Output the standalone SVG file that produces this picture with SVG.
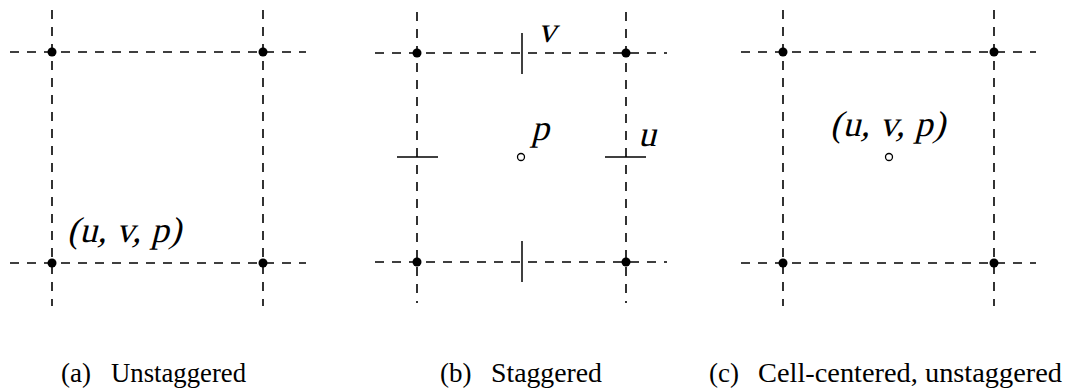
<svg xmlns="http://www.w3.org/2000/svg" width="1071" height="392" viewBox="0 0 1071 392">
<style>
.grid{stroke:#000;stroke-width:1.6;stroke-dasharray:9 8;fill:none}
.solid{stroke:#000;stroke-width:1.5;fill:none}
.dot{fill:#000}
.open{fill:#fff;stroke:#000;stroke-width:1.3}
.math{font-family:"Liberation Serif","Times New Roman",serif;font-size:36px;fill:#000}
.cap{font-family:"Liberation Serif","Times New Roman",serif;font-size:27px;fill:#000}
</style>
<g id="connectors">
<line class="grid" x1="10" y1="52" x2="306" y2="52"/>
<line class="grid" x1="10" y1="263" x2="306" y2="263"/>
<line class="grid" x1="52" y1="10" x2="52" y2="306"/>
<line class="grid" x1="263" y1="10" x2="263" y2="306"/>
<line class="grid" x1="375" y1="53" x2="667" y2="53"/>
<line class="grid" x1="375" y1="262" x2="667" y2="262"/>
<line class="grid" x1="417" y1="12" x2="417" y2="303"/>
<line class="grid" x1="626" y1="12" x2="626" y2="303"/>
<line class="solid" x1="522" y1="33" x2="522" y2="74"/>
<line class="solid" x1="522" y1="241" x2="522" y2="282"/>
<line class="solid" x1="397" y1="157" x2="438" y2="157"/>
<line class="solid" x1="605" y1="157" x2="646" y2="157"/>
<line class="grid" x1="741" y1="52" x2="1036" y2="52"/>
<line class="grid" x1="741" y1="263" x2="1036" y2="263"/>
<line class="grid" x1="783" y1="10" x2="783" y2="306"/>
<line class="grid" x1="994" y1="10" x2="994" y2="306"/>
</g>
<g id="panel-a">
<circle class="dot" cx="52" cy="52" r="4.5"/>
<circle class="dot" cx="263" cy="52" r="4.5"/>
<circle class="dot" cx="52" cy="263" r="4.5"/>
<circle class="dot" cx="263" cy="263" r="4.5"/>
<text class="math" transform="translate(67,242) skewX(-14)" textLength="114" lengthAdjust="spacing">(u, v, p)</text>
<text class="cap" y="382"><tspan x="61">(a)</tspan><tspan x="111" textLength="135" lengthAdjust="spacingAndGlyphs">Unstaggered</tspan></text>
</g>
<g id="panel-b">
<circle class="dot" cx="417" cy="53" r="4.5"/>
<circle class="dot" cx="626" cy="53" r="4.5"/>
<circle class="dot" cx="417" cy="262" r="4.5"/>
<circle class="dot" cx="626" cy="262" r="4.5"/>
<circle class="open" cx="521" cy="157" r="3.5"/>
<text class="math" transform="translate(538,42) skewX(-14)">v</text>
<text class="math" transform="translate(531,140) skewX(-14)">p</text>
<text class="math" transform="translate(638,146) skewX(-14)">u</text>
<text class="cap" y="382"><tspan x="440">(b)</tspan><tspan x="491" textLength="111" lengthAdjust="spacingAndGlyphs">Staggered</tspan></text>
</g>
<g id="panel-c">
<circle class="dot" cx="783" cy="52" r="4.5"/>
<circle class="dot" cx="994" cy="52" r="4.5"/>
<circle class="dot" cx="783" cy="263" r="4.5"/>
<circle class="dot" cx="994" cy="263" r="4.5"/>
<circle class="open" cx="889" cy="157" r="3.5"/>
<text class="math" transform="translate(830,136) skewX(-14)" textLength="115" lengthAdjust="spacing">(u, v, p)</text>
<text class="cap" y="382"><tspan x="709">(c)</tspan><tspan x="758" textLength="304" lengthAdjust="spacingAndGlyphs">Cell-centered, unstaggered</tspan></text>
</g>
</svg>
